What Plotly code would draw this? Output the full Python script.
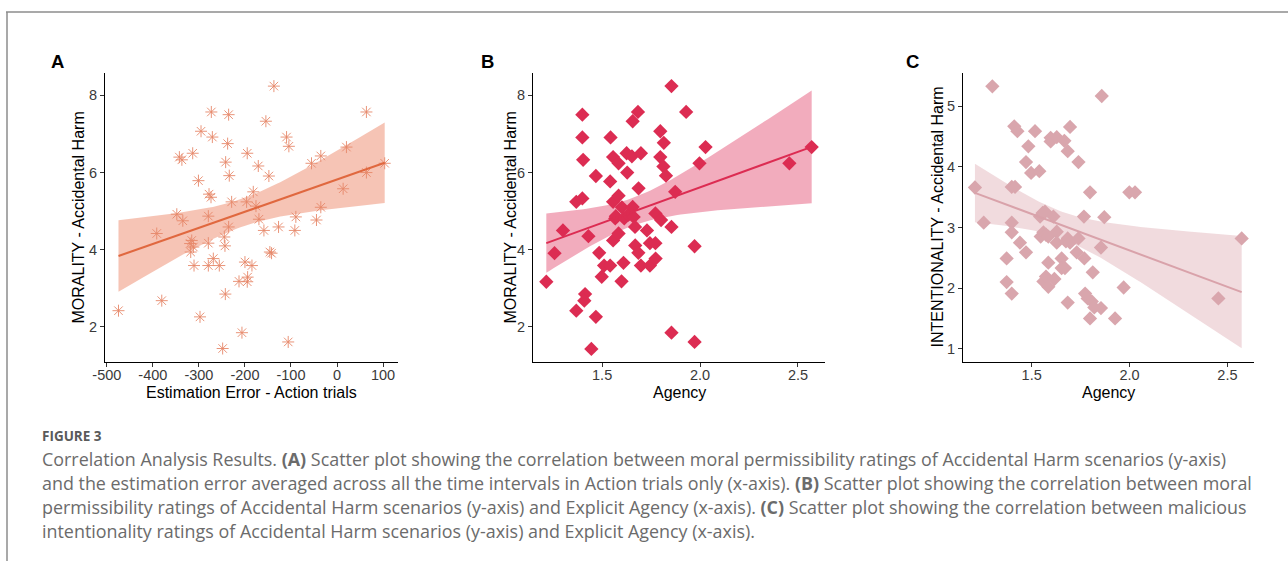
import numpy as np
import plotly.graph_objects as go

W, H = 1288, 561

a_x = [-474.7, -391.6, -380.7, -348.0, -342.4, -337.0, -335.0, -313.5, -319.0, -315.6,
       -312.0, -317.8, -310.6, -301.0, -295.4, -297.6, -279.5, -279.5, -279.5, -278.0,
       -273.7, -273.0, -270.8, -268.7, -255.7, -248.4, -244.8, -243.4, -242.6, -241.9,
       -237.6, -235.4, -234.0, -235.4, -228.9, -212.9, -206.5, -200.0, -196.4, -195.0,
       -195.0, -194.2, -184.8, -181.9, -176.0, -171.0, -169.6, -158.8, -154.5, -148.0,
       -145.8, -142.2, -137.1, -127.0, -109.6, -104.6, -106.0, -91.6, -89.4, -55.4,
       -44.6, -35.2, -35.2, 13.3, 20.5, 63.9, 63.9, 103.6]
a_y = [2.42, 4.42, 2.68, 4.92, 6.40, 6.33, 4.75, 6.50, 4.16, 4.24,
       4.07, 3.94, 3.59, 5.79, 7.07, 2.26, 4.17, 4.87, 3.59, 5.44,
       5.36, 7.57, 6.92, 3.77, 3.59, 1.44, 4.33, 4.10, 2.85, 6.27,
       6.75, 7.50, 5.92, 4.59, 5.24, 3.18, 1.85, 3.68, 5.24, 6.50,
       3.17, 3.29, 3.59, 5.50, 5.13, 6.17, 4.79, 4.50, 7.33, 5.91,
       3.94, 3.91, 8.24, 4.59, 6.92, 6.68, 1.61, 4.50, 4.85, 6.24,
       4.77, 6.43, 5.10, 5.58, 6.66, 7.57, 6.00, 6.24]

b_x = [1.215, 1.257, 1.300, 1.368, 1.368, 1.399, 1.399, 1.403, 1.399, 1.413,
       1.409, 1.430, 1.445, 1.468, 1.468, 1.485, 1.498, 1.510, 1.541, 1.541,
       1.543, 1.556, 1.556, 1.556, 1.567, 1.570, 1.584, 1.584, 1.584, 1.599,
       1.601, 1.609, 1.613, 1.625, 1.628, 1.635, 1.652, 1.656, 1.656, 1.661,
       1.668, 1.669, 1.683, 1.686, 1.685, 1.698, 1.698, 1.729, 1.744, 1.744,
       1.772, 1.772, 1.773, 1.797, 1.797, 1.801, 1.815, 1.813, 1.826, 1.854,
       1.854, 1.854, 1.873, 1.929, 1.972, 1.972, 1.997, 2.028, 2.456, 2.570]
b_y = [3.17, 3.91, 4.50, 2.42, 5.24, 7.50, 6.91, 6.33, 5.33, 2.85,
       2.68, 4.35, 1.43, 5.91, 2.26, 3.92, 3.30, 3.59, 3.59, 5.77,
       6.91, 6.40, 5.24, 4.24, 4.81, 4.87, 6.24, 5.40, 4.42, 3.18,
       5.10, 3.66, 4.81, 6.50, 6.00, 4.91, 6.42, 7.33, 5.11, 4.85,
       4.59, 4.11, 7.57, 5.59, 3.92, 6.50, 3.59, 4.50, 3.59, 4.17,
       4.17, 4.94, 3.77, 7.07, 6.40, 4.77, 6.77, 6.16, 5.92, 8.24,
       1.85, 4.59, 5.50, 7.57, 4.09, 1.61, 6.24, 6.66, 6.24, 6.66]

c_x = [1.210, 1.255, 1.299, 1.372, 1.372, 1.398, 1.398, 1.398, 1.398, 1.411,
       1.415, 1.427, 1.440, 1.471, 1.471, 1.483, 1.497, 1.517, 1.539, 1.543,
       1.546, 1.556, 1.560, 1.560, 1.568, 1.573, 1.573, 1.585, 1.585, 1.585,
       1.597, 1.597, 1.611, 1.616, 1.628, 1.628, 1.628, 1.653, 1.653, 1.667,
       1.670, 1.675, 1.684, 1.684, 1.684, 1.696, 1.696, 1.730, 1.739, 1.739,
       1.767, 1.769, 1.773, 1.786, 1.798, 1.798, 1.807, 1.812, 1.820, 1.854,
       1.854, 1.858, 1.871, 1.926, 1.970, 1.999, 2.028, 2.454, 2.573]
c_y = [3.66, 3.08, 5.33, 2.49, 2.10, 3.67, 3.08, 2.92, 1.91, 4.67,
       3.67, 4.59, 2.75, 2.59, 4.08, 4.34, 3.90, 4.59, 3.93, 3.18,
       2.85, 3.24, 2.92, 2.11, 3.26, 2.88, 2.19, 2.02, 2.85, 2.42,
       4.42, 4.48, 3.18, 2.15, 4.49, 2.93, 2.75, 2.49, 2.33, 4.43,
       2.33, 2.77, 4.26, 2.82, 1.76, 4.66, 2.75, 2.59, 2.82, 4.08,
       3.18, 2.49, 1.91, 1.83, 3.58, 1.50, 1.78, 2.26, 1.68, 1.67,
       2.67, 5.17, 3.17, 1.50, 2.01, 3.58, 3.58, 1.83, 2.82]

a_ticks = [-500, -400, -300, -200, -100, 0, 100]
a_ticklabels = ["-500", "-400", "-300", "-200", "-100", "0", "100"]
a_yticks = [2, 4, 6, 8]
bc_ticks = [1.5, 2.0, 2.5]
bc_ticklabels = ["1.5", "2.0", "2.5"]
c_yticks = [1, 2, 3, 4, 5]

panel_labels = ["A", "B", "C"]
y_titles = ["MORALITY - Accidental Harm", "MORALITY - Accidental Harm",
            "INTENTIONALITY - Accidental Harm"]
x_titles = ["Estimation Error - Action trials", "Agency", "Agency"]

caption_head = "FIGURE 3"
caption_lines = [
    "Correlation Analysis Results. <b>(A)</b> Scatter plot showing the correlation between moral permissibility ratings of Accidental Harm scenarios (y-axis)",
    "and the estimation error averaged across all the time intervals in Action trials only (x-axis). <b>(B)</b> Scatter plot showing the correlation between moral",
    "permissibility ratings of Accidental Harm scenarios (y-axis) and Explicit Agency (x-axis). <b>(C)</b> Scatter plot showing the correlation between malicious",
    "intentionality ratings of Accidental Harm scenarios (y-axis) and Explicit Agency (x-axis).",
]


def px(x):
    return x / W


def py(y):
    return 1 - y / H


def fit(x, y, n=80):
    x = np.asarray(x, float)
    y = np.asarray(y, float)
    nn = len(x)
    b1, b0 = np.polyfit(x, y, 1)
    res = y - (b0 + b1 * x)
    s = np.sqrt(np.sum(res ** 2) / (nn - 2))
    xm = x.mean()
    sxx = np.sum((x - xm) ** 2)
    xs = np.linspace(x.min(), x.max(), n)
    yh = b0 + b1 * xs
    se = s * np.sqrt(1 / nn + (xs - xm) ** 2 / sxx)
    t = 1.997
    return xs, yh, yh - t * se, yh + t * se


fig = go.Figure()

panels = [
    dict(x=a_x, y=a_y, sym="asterisk-open", msize=10, mcol="#E6886A", lcol="#E0683F",
         rib="rgba(236,125,90,0.45)", xr=[-504, 132.5], yr=[1.09, 8.58],
         xt=a_ticks, xtl=a_ticklabels, yt=a_yticks, xd=[105, 398]),
    dict(x=b_x, y=b_y, sym="diamond", msize=11, mcol="#DC2C52", lcol="#DC2C52",
         rib="rgba(226,72,108,0.45)", xr=[1.147, 2.638], yr=[1.09, 8.58],
         xt=bc_ticks, xtl=bc_ticklabels, yt=a_yticks, xd=[533, 825]),
    dict(x=c_x, y=c_y, sym="diamond", msize=11, mcol="#D9A6AD", lcol="#D9A2AA",
         rib="rgba(218,160,168,0.38)", xr=[1.149, 2.636], yr=[0.78, 5.55],
         xt=bc_ticks, xtl=bc_ticklabels, yt=c_yticks, xd=[963, 1254]),
]

y_top, y_bot = 73, 362
ytitle_x = [78, 510, 937]
lab_x = [57, 487, 912]
FONT = "Liberation Sans, Arial"

for i, p in enumerate(panels):
    k = "" if i == 0 else str(i + 1)
    xa, ya = "x" + k, "y" + k
    xs, yh, lo, hi = fit(p["x"], p["y"])
    fig.add_trace(go.Scatter(x=np.concatenate([xs, xs[::-1]]), y=np.concatenate([hi, lo[::-1]]),
                             fill="toself", fillcolor=p["rib"], line=dict(width=0),
                             mode="lines", hoverinfo="skip", showlegend=False, xaxis=xa, yaxis=ya))
    fig.add_trace(go.Scatter(x=p["x"], y=p["y"], mode="markers", showlegend=False,
                             marker=dict(symbol=p["sym"], size=p["msize"], color=p["mcol"],
                                         line=dict(color=p["mcol"], width=0.9 if p["sym"] == "asterisk-open" else 0)),
                             xaxis=xa, yaxis=ya))
    fig.add_trace(go.Scatter(x=xs, y=yh, mode="lines", line=dict(color=p["lcol"], width=2),
                             showlegend=False, hoverinfo="skip", xaxis=xa, yaxis=ya))

    common = dict(showgrid=False, zeroline=False, showline=True, linecolor="black", linewidth=1,
                  ticks="outside", ticklen=4, tickwidth=1, tickcolor="#333333",
                  tickfont=dict(family=FONT, size=14.5, color="#3A3A3A"),
                  mirror=False, automargin=False)
    xaxis = dict(common, domain=[px(p["xd"][0]), px(p["xd"][1])], range=p["xr"],
                 tickmode="array", tickvals=p["xt"], ticktext=p["xtl"], anchor=ya,
                 ticklabelstandoff=-4)
    yaxis = dict(common, domain=[py(y_bot), py(y_top)], range=p["yr"], tickvals=p["yt"], anchor=xa)
    fig.update_layout(**{"xaxis" + k: xaxis, "yaxis" + k: yaxis})

    fig.add_annotation(text=y_titles[i], x=px(ytitle_x[i]), y=py((y_top + y_bot) / 2),
                       xref="paper", yref="paper", textangle=-90, showarrow=False,
                       font=dict(family=FONT, size=16, color="black"),
                       xanchor="center", yanchor="middle")
    fig.add_annotation(text=x_titles[i], x=px((p["xd"][0] + p["xd"][1]) / 2), y=py(392),
                       xref="paper", yref="paper", showarrow=False,
                       font=dict(family=FONT, size=16, color="black"),
                       xanchor="center", yanchor="middle")
    fig.add_annotation(text="<b>" + panel_labels[i] + "</b>", x=px(lab_x[i]), y=py(62),
                       xref="paper", yref="paper", showarrow=False,
                       font=dict(family=FONT, size=18.5, color="black"),
                       xanchor="center", yanchor="middle")

fig.add_annotation(text="<b>" + caption_head + "</b>", x=px(40), y=py(436), xref="paper", yref="paper",
                   showarrow=False, xanchor="left", yanchor="middle",
                   font=dict(family="Open Sans", size=13.5, color="#5A5A5A"))
for j, line in enumerate(caption_lines):
    fig.add_annotation(text=line, x=px(40), y=py(458.5 + j * 24.3), xref="paper", yref="paper",
                       showarrow=False, xanchor="left", yanchor="middle",
                       font=dict(family="Open Sans", size=17.9, color="#6B6B6B"))

fig.add_shape(type="line", xref="paper", yref="paper", x0=px(6), x1=1, y0=py(12), y1=py(12),
              line=dict(color="#8C8C8C", width=1.5))
fig.add_shape(type="line", xref="paper", yref="paper", x0=px(7), x1=px(7), y0=py(12), y1=0,
              line=dict(color="#8C8C8C", width=1.5))

fig.update_layout(width=W, height=H, margin=dict(l=0, r=0, t=0, b=0, pad=0, autoexpand=False),
                  paper_bgcolor="white", plot_bgcolor="white", showlegend=False)

fig.write_html("out.html", config={"displayModeBar": False},
               post_script="document.body.style.margin='0px';document.body.style.overflow='hidden';")
